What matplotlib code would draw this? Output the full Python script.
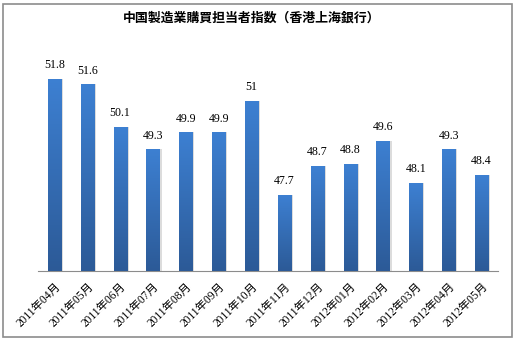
import numpy as np
import matplotlib.pyplot as plt
from matplotlib.patches import Rectangle
from matplotlib.colors import LinearSegmentedColormap

# 中国製造業PMI（HSBC）月次データ
months = ['2011年04月', '2011年05月', '2011年06月', '2011年07月', '2011年08月',
          '2011年09月', '2011年10月', '2011年11月', '2011年12月', '2012年01月',
          '2012年02月', '2012年03月', '2012年04月', '2012年05月']
pmi = [51.8, 51.6, 50.1, 49.3, 49.9, 49.9, 51, 47.7, 48.7, 48.8, 49.6, 48.1, 49.3, 48.4]
labels = ['51.8', '51.6', '50.1', '49.3', '49.9', '49.9', '51', '47.7', '48.7',
          '48.8', '49.6', '48.1', '49.3', '48.4']

W, H = 516, 340
fig = plt.figure(figsize=(W/100, H/100), dpi=100)
fig.patch.set_facecolor('white')

# 外枠
fig.patches.append(Rectangle((3/W, 3/H), 509/W, 333/H, transform=fig.transFigure,
                             fill=False, edgecolor='#8c8c8c', linewidth=1.2))

fig.text(252/W, 1-18/H, '中国製造業購買担当者指数（香港上海銀行）',
         ha='center', va='center', fontsize=9.3, fontweight='bold',
         family=['Noto Sans CJK JP', 'DejaVu Sans'])

ax = fig.add_axes([38/W, 1-271/H, 460/W, 212/H])
ymin, ymax = 45, 52.5

x = np.arange(len(months))
# 右側の薄い影
ax.bar(x+0.06, np.array(pmi)-ymin, width=0.4, bottom=ymin, color='#dcdcdc', zorder=1)
bars = ax.bar(x, np.array(pmi)-ymin, width=0.4, bottom=ymin, color='#3572bd', zorder=2)

# 縦方向のグラデーション
grad = np.linspace(0, 1, 256).reshape(-1, 1)
cmap = LinearSegmentedColormap.from_list('bl', ['#2c5a97', '#3d80d2'])
for b in bars:
    bx, by = b.get_x(), b.get_y()
    bw, bh = b.get_width(), b.get_height()
    im = ax.imshow(grad, cmap=cmap, origin='lower', aspect='auto',
                   extent=(bx, bx+bw, by, by+bh), zorder=3)
    im.set_clip_path(b)

for xi, v, t in zip(x, pmi, labels):
    ax.text(xi, v+0.28, t, ha='center', va='bottom', fontsize=8.6,
            family=['Liberation Serif', 'Noto Sans CJK JP'], zorder=4)

ax.set_xlim(-0.5, len(months)-0.5)
ax.set_ylim(ymin, ymax)
for s in ['top', 'right', 'left']:
    ax.spines[s].set_visible(False)
ax.spines['bottom'].set_color('#8c8c8c')
ax.set_yticks([])
ax.set_xticks(x)
ax.set_xticklabels(months, rotation=45, ha='right', rotation_mode='anchor',
                   fontsize=8.3, family=['Liberation Serif', 'Noto Sans CJK JP'])
ax.tick_params(axis='x', length=0, pad=7)

fig.savefig('out.png', dpi=100)
